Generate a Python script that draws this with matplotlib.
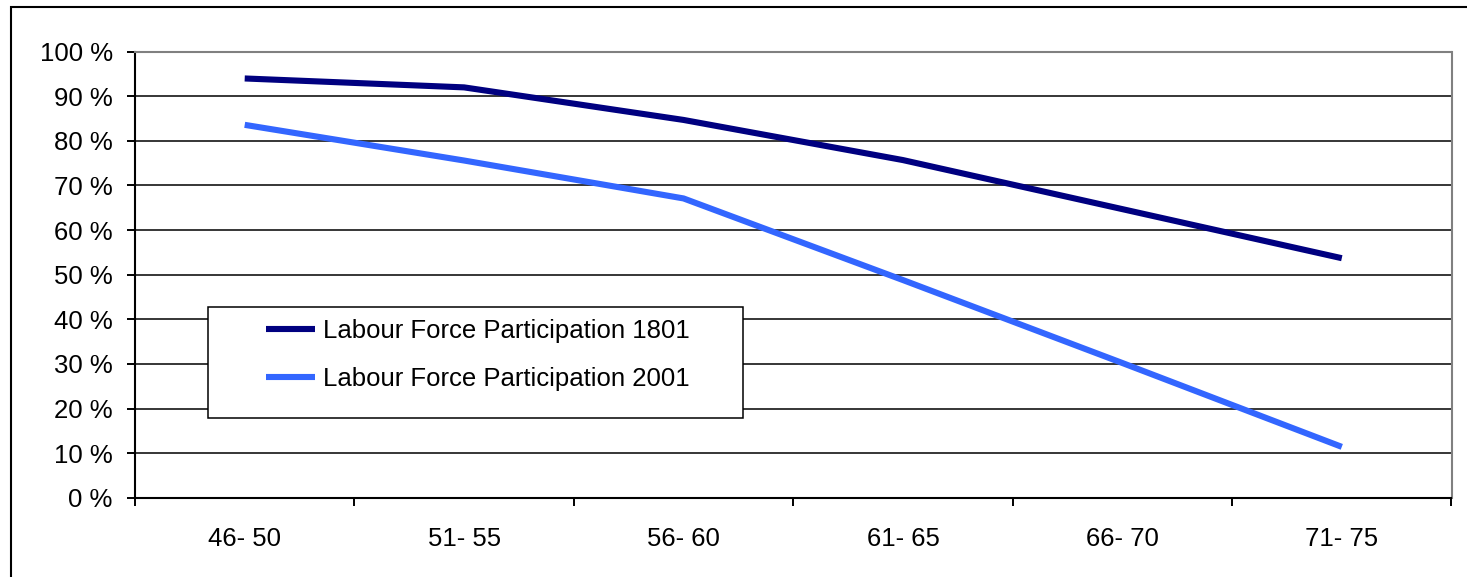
import matplotlib
matplotlib.use('Agg')
import matplotlib.pyplot as plt
from matplotlib.patches import Rectangle

plt.rcParams['font.family'] = ['Liberation Sans', 'DejaVu Sans']

# Age groups and participation rates (percent)
age_groups = ['46- 50', '51- 55', '56- 60', '61- 65', '66- 70', '71- 75']
participation_1801 = [94.0, 92.0, 84.7, 75.7, 64.7, 53.7]
participation_2001 = [83.6, 75.6, 67.1, 48.8, 30.2, 11.4]
y_ticks = list(range(0, 101, 10))

W, H = 1467, 577
fig = plt.figure(figsize=(W / 100, H / 100), dpi=100)
ax = fig.add_axes([135 / W, 1 - 497.7 / H, 1316.5 / W, 446 / H])

x = range(len(age_groups))
ax.plot(x, participation_1801, color='#000080', lw=4.4, solid_capstyle='butt',
        label='Labour Force Participation 1801', zorder=3)
ax.plot(x, participation_2001, color='#3366FF', lw=4.4, solid_capstyle='butt',
        label='Labour Force Participation 2001', zorder=3)

ax.set_xlim(-0.5, len(age_groups) - 0.5)
ax.set_ylim(0, 100)

# category labels in the middle, tick marks on the boundaries
ax.set_xticks(list(x))
ax.set_xticklabels(age_groups, fontsize=18.5)
ax.set_xticks([i - 0.5 for i in range(len(age_groups) + 1)], minor=True)
ax.tick_params(axis='x', which='major', length=0, pad=21)
ax.tick_params(axis='x', which='minor', length=6, width=1.4, direction='out')

ax.set_yticks(y_ticks)
ax.set_yticklabels([f'{v} %' for v in y_ticks], fontsize=18.5)
ax.tick_params(axis='y', length=6, width=1.4, pad=10)

ax.grid(axis='y', color='black', lw=1.1, zorder=1)
ax.set_axisbelow(True)

for side in ['left', 'bottom']:
    ax.spines[side].set_color('black')
    ax.spines[side].set_linewidth(1.5)
for side in ['top', 'right']:
    ax.spines[side].set_color('#808080')
    ax.spines[side].set_linewidth(1.5)

# legend box sits over the gridlines
fig.patches.append(Rectangle((208 / W, 1 - 418 / H), 535 / W, 111 / H,
                             transform=fig.transFigure, facecolor='white',
                             edgecolor='black', lw=1.1, zorder=4))
handles, labels = ax.get_legend_handles_labels()
leg = fig.legend(handles, labels, loc='upper left',
                 bbox_to_anchor=(266 / W, 1 - 319 / H), bbox_transform=fig.transFigure,
                 frameon=False, fontsize=18.5, borderpad=0, borderaxespad=0,
                 handlelength=1.9, handletextpad=0.3, labelspacing=0.95)
leg.set_zorder(5)

# outer chart border
fig.patches.append(Rectangle((10.5 / W, -0.5), 2, 1.5 - 6.5 / H,
                             transform=fig.transFigure, fill=False,
                             edgecolor='black', lw=1.5, zorder=6))

fig.savefig('out.png', dpi=100)
